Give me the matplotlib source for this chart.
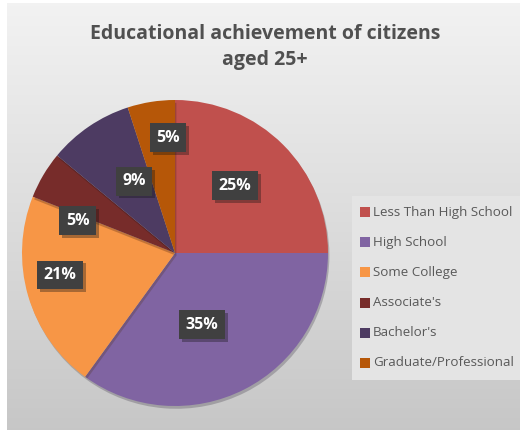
import numpy as np
import matplotlib
matplotlib.use("Agg")
import matplotlib.pyplot as plt
import matplotlib.patheffects as pe
from matplotlib.patches import Rectangle

# data
categories = ["Less Than High School", "High School", "Some College",
              "Associate's", "Bachelor's", "Graduate/Professional"]
shares = [25, 35, 21, 5, 9, 5]
colors = ["#C0504D", "#8064A2", "#F79646", "#772C2A", "#4D3B62", "#B65708"]

# label placement (fraction of radius, angle offset from wedge middle in degrees)
label_radius = [0.59, 0.50, 0.765, 0.67, 0.54, 0.756]
label_shift = [3.2, -6.2, -5.4, 12.3, -4.5, -5.5]

TEXT_COLOR = "#595959"

fig = plt.figure(figsize=(5.2, 4.3), dpi=100)
fig.patch.set_facecolor("white")

# gradient background panel
bg = fig.add_axes([7 / 520, 0, 513 / 520, 427 / 430])
grad = np.linspace(0.95, 0.78, 256).reshape(-1, 1)
bg.imshow(np.dstack([grad, grad, grad]), aspect="auto", extent=[0, 1, 0, 1],
          origin="upper")
bg.set_axis_off()

# pie: center (175, 253) px, radius 153 px
r = 153
cx, cy = 175, 253
ax = fig.add_axes([(cx - r) / 520, 1 - (cy + r) / 430, 2 * r / 520, 2 * r / 430])
wedges, _ = ax.pie(shares, colors=colors, startangle=90, counterclock=False,
                   radius=1.0, wedgeprops=dict(linewidth=0))
for w in wedges:
    w.set_path_effects([pe.SimplePatchShadow(offset=(1, -2), alpha=0.25), pe.Normal()])
ax.set_xlim(-1, 1)
ax.set_ylim(-1, 1)
ax.set_aspect("auto")
ax.set_axis_off()

for w, val, rad, shift in zip(wedges, shares, label_radius, label_shift):
    ang = np.deg2rad((w.theta1 + w.theta2) / 2 + shift)
    t = ax.text(rad * np.cos(ang), rad * np.sin(ang), f"{val}%", ha="center", va="center",
                color="white", fontsize=11.5, fontweight="bold", family="Open Sans",
                bbox=dict(boxstyle="square,pad=0.4", facecolor="#404040", edgecolor="none"))
    t.get_bbox_patch().set_path_effects([pe.SimplePatchShadow(offset=(2, -2), alpha=0.35),
                                         pe.Normal()])

# title
fig.text(265 / 520, 1 - 47 / 430, "Educational achievement of citizens\naged 25+",
         ha="center", va="center", fontsize=14, fontweight="bold", color="#505050",
         linespacing=1.4, family="Open Sans")

# legend panel
fig.patches.append(Rectangle((352 / 520, 1 - 380 / 430), 168 / 520, 184 / 430,
                             transform=fig.transFigure, facecolor="#E4E4E4",
                             edgecolor="none", zorder=1))
for i, (name, c) in enumerate(zip(categories, colors)):
    y = 212 + i * 30.2
    fig.patches.append(Rectangle((360 / 520, 1 - (y + 5) / 430), 10 / 520, 10 / 430,
                                 transform=fig.transFigure, facecolor=c,
                                 edgecolor="none", zorder=2))
    fig.text(373 / 520, 1 - y / 430, name, ha="left", va="center", fontsize=9.6,
             color=TEXT_COLOR, family="Open Sans", zorder=3)

fig.savefig("out.png", dpi=100)
